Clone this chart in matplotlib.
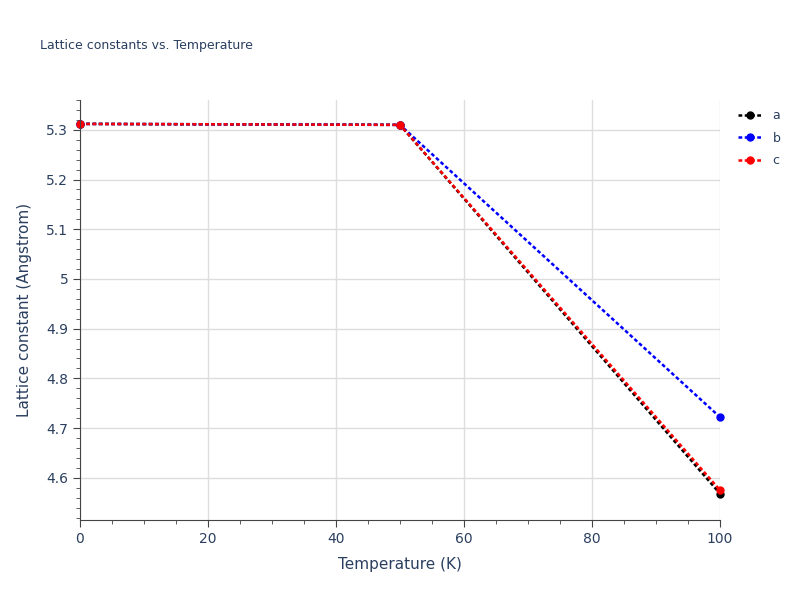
import matplotlib
matplotlib.use("Agg")
import matplotlib.pyplot as plt
from matplotlib.ticker import MultipleLocator

temps = [0, 50, 100]
a_vals = [5.312, 5.310, 4.568]
b_vals = [5.312, 5.310, 4.722]
c_vals = [5.312, 5.310, 4.575]
series = [("a", a_vals, "black"), ("b", b_vals, "blue"), ("c", c_vals, "red")]

fig = plt.figure(figsize=(8, 6), dpi=100)
ax = fig.add_axes([0.1, 0.1333, 0.8, 0.7])
for name, vals, col in series:
    ax.plot(temps, vals, linestyle=(0, (1.5, 1)), color=col, lw=1.8, marker="o", ms=5, label=name, clip_on=False)

ax.set_xlim(0, 100)
ax.set_ylim(4.515, 5.36)
ax.xaxis.set_major_locator(MultipleLocator(20))
ax.xaxis.set_minor_locator(MultipleLocator(5))
ax.yaxis.set_minor_locator(MultipleLocator(0.02))
ax.set_yticks([4.6, 4.7, 4.8, 4.9, 5.0, 5.1, 5.2, 5.3])
ax.set_yticklabels(["4.6", "4.7", "4.8", "4.9", "5", "5.1", "5.2", "5.3"])
ax.grid(True, which="major", color="#dddddd", lw=1)
ax.set_axisbelow(True)
for s in ["top", "right"]:
    ax.spines[s].set_visible(False)
for s in ["left", "bottom"]:
    ax.spines[s].set_color("#444444")
ax.tick_params(which="both", colors="#444444", labelcolor="#2a3f5f", labelsize=10)
ax.tick_params(which="major", length=5)
ax.tick_params(which="minor", length=3)
ax.set_xlabel("Temperature (K)", color="#2a3f5f", fontsize=11, labelpad=8)
ax.set_ylabel("Lattice constant (Angstrom)", color="#2a3f5f", fontsize=11, labelpad=10)
fig.text(0.05, 0.918, "Lattice constants vs. Temperature", color="#2a3f5f", fontsize=9)
leg = ax.legend(loc="upper left", bbox_to_anchor=(1.01, 1.005), frameon=False, fontsize=9,
                handlelength=2, labelspacing=0.75)
for t in leg.get_texts():
    t.set_color("#2a3f5f")
fig.savefig("out.png")
